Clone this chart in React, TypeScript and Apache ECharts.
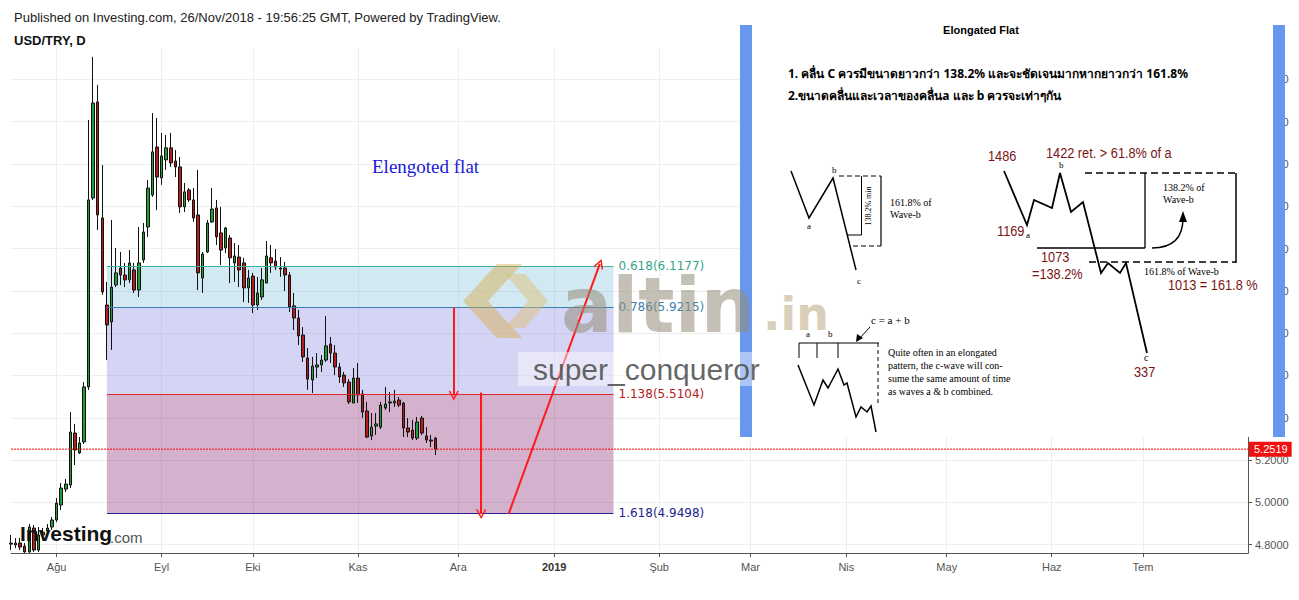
import React, { useEffect, useRef } from "react";
import * as echarts from "echarts";

// ---------- data ----------
const monthNamesTr = ["Oca", "Şub", "Mar", "Nis", "May", "Haz", "Tem", "Ağu", "Eyl", "Eki", "Kas", "Ara"];
const firstTradingDay = "2018-07-18";
const tradingDayCount = 272;
const lastLabelledDay = "2019-07-31";
const lastChartDay = "2019-08-01";

// USD/TRY daily candles from 2018-07-18: [open, close, low, high]
const usdTryDaily: number[][] = [
  [4.803, 4.808, 4.775, 4.846], [4.799, 4.808, 4.784, 4.832], [4.808, 4.789, 4.775, 4.832], [4.794, 4.766, 4.762, 4.808],
  [4.766, 4.884, 4.762, 4.898], [4.879, 4.775, 4.766, 4.893], [4.775, 4.846, 4.766, 4.884], [4.846, 4.860, 4.822, 4.879],
  [4.865, 4.879, 4.851, 4.898], [4.884, 4.917, 4.870, 4.931], [4.917, 4.997, 4.907, 5.021], [4.988, 5.068, 4.964, 5.092],
  [5.063, 5.087, 5.049, 5.111], [5.082, 5.333, 5.068, 5.427], [5.328, 5.248, 5.177, 5.371], [5.234, 5.281, 5.229, 5.309],
  [5.286, 5.546, 5.276, 5.569], [5.546, 6.430, 5.532, 6.808], [6.439, 6.888, 6.430, 7.106], [6.893, 6.359, 6.288, 6.974],
  [6.345, 5.995, 5.981, 6.595], [5.933, 5.839, 5.673, 6.042], [5.853, 6.018, 5.721, 6.335], [6.028, 6.085, 6.018, 6.203],
  [6.108, 6.075, 6.028, 6.184], [6.075, 6.052, 6.018, 6.132], [6.052, 6.132, 6.037, 6.193], [6.099, 6.004, 5.990, 6.132],
  [6.004, 6.132, 5.971, 6.302], [6.146, 6.278, 6.132, 6.321], [6.302, 6.486, 6.255, 6.524], [6.453, 6.657, 6.444, 6.841],
  [6.680, 6.538, 6.382, 6.817], [6.534, 6.638, 6.501, 6.747], [6.619, 6.676, 6.572, 6.737], [6.676, 6.605, 6.586, 6.747],
  [6.614, 6.586, 6.538, 6.666], [6.586, 6.397, 6.368, 6.633], [6.397, 6.468, 6.373, 6.510], [6.477, 6.430, 6.420, 6.486],
  [6.430, 6.345, 6.326, 6.486], [6.359, 6.085, 6.004, 6.572], [6.061, 6.174, 5.990, 6.184], [6.184, 6.321, 6.179, 6.335],
  [6.326, 6.387, 6.321, 6.486], [6.392, 6.255, 6.217, 6.430], [6.274, 6.193, 6.122, 6.397], [6.203, 6.297, 6.179, 6.302],
  [6.250, 6.156, 6.037, 6.264], [6.132, 6.165, 6.042, 6.226], [6.160, 6.099, 6.018, 6.217], [6.132, 6.014, 5.947, 6.156],
  [6.014, 6.061, 5.943, 6.099], [6.070, 5.933, 5.895, 6.085], [5.933, 5.990, 5.910, 6.066], [5.971, 6.052, 5.957, 6.108],
  [6.037, 6.165, 6.037, 6.236], [6.156, 6.132, 6.085, 6.217], [6.141, 6.113, 6.099, 6.198], [6.108, 6.103, 6.066, 6.160],
  [6.108, 6.075, 5.999, 6.137], [6.075, 5.924, 5.900, 6.089], [5.929, 5.872, 5.815, 5.990], [5.872, 5.787, 5.744, 5.910],
  [5.791, 5.688, 5.664, 5.829], [5.683, 5.583, 5.532, 5.730], [5.579, 5.645, 5.517, 5.688], [5.640, 5.650, 5.588, 5.706],
  [5.650, 5.673, 5.617, 5.697], [5.673, 5.740, 5.664, 5.881], [5.749, 5.706, 5.659, 5.782], [5.706, 5.640, 5.602, 5.744],
  [5.640, 5.593, 5.565, 5.659], [5.602, 5.565, 5.546, 5.617], [5.569, 5.475, 5.465, 5.583], [5.470, 5.588, 5.470, 5.635],
  [5.588, 5.508, 5.470, 5.659], [5.513, 5.427, 5.399, 5.532], [5.432, 5.309, 5.304, 5.475], [5.314, 5.356, 5.295, 5.423],
  [5.361, 5.371, 5.319, 5.423], [5.356, 5.460, 5.347, 5.475], [5.446, 5.465, 5.437, 5.546], [5.470, 5.475, 5.427, 5.522],
  [5.470, 5.479, 5.451, 5.532], [5.484, 5.460, 5.451, 5.498], [5.470, 5.352, 5.309, 5.475], [5.352, 5.333, 5.309, 5.399],
  [5.342, 5.304, 5.295, 5.390], [5.304, 5.380, 5.295, 5.404], [5.399, 5.328, 5.319, 5.409], [5.314, 5.295, 5.281, 5.356],
  [5.295, 5.290, 5.262, 5.319], [5.304, 5.2519, 5.224, 5.310],
];

const lastPrice = 5.2519;
const fibRatios = ["0.618", "0.786", "1.138", "1.618"];
const fibPrices = [6.1177, 5.9215, 5.5104, 4.9498];
const fibFrom = "2018-08-16";
const fibTo = "2019-01-18";

const arrowStarts: [string, number][] = [["2018-11-30", 5.9215], ["2018-12-10", 5.52], ["2018-12-18", 4.945]];
const arrowEnds: [string, number][] = [["2018-11-30", 5.505], ["2018-12-10", 4.945], ["2019-01-15", 6.128]];

const yMin = 4.761;
const yMax = 7.148;

// ---------- styles ----------
const fibLineColors = ["#3fb39b", "#3a7fb4", "#e02a2a", "#23239a"];
const fibLabelColors = ["#35a589", "#3d7fae", "#b42020", "#22228f"];
const fibFillColors = ["rgba(105,178,215,0.3)", "rgba(112,112,222,0.3)", "rgba(112,0,88,0.3)"];
const SANS = "Liberation Sans, Arial, sans-serif";
const SERIF = "Liberation Serif, Times New Roman, serif";
const BRICK = "#7a1414";
const PANEL_BLUE = "#6797ee";
const PRICE_RED = "#ff0000";

function buildTradingDays(start: string, count: number): string[] {
  const out: string[] = [];
  const d = new Date(start + "T00:00:00Z");
  while (out.length < count) {
    const wd = d.getUTCDay();
    if (wd !== 0 && wd !== 6) out.push(d.toISOString().slice(0, 10));
    d.setUTCDate(d.getUTCDate() + 1);
  }
  return out;
}

const txt = (text: string, x: number, y: number, size: number, o: any = {}) => ({
  type: "text",
  x,
  y,
  z: o.z ?? 100,
  silent: true,
  rotation: o.rotation ?? 0,
  scaleX: o.scaleX ?? 1,
  style: {
    text,
    fill: o.fill ?? "#000",
    fontSize: size,
    fontFamily: o.family ?? SANS,
    fontWeight: o.weight ?? "normal",
    textAlign: o.align ?? "left",
    textVerticalAlign: "middle",
    align: o.align ?? "left",
    verticalAlign: "middle",
  },
});

const pl = (points: number[][], o: any = {}) => ({
  type: "polyline",
  z: o.z ?? 100,
  silent: true,
  shape: { points },
  style: { stroke: o.stroke ?? "#000", lineWidth: o.w ?? 1.2, fill: null, lineDash: o.dash ?? null },
});

const rect = (x: number, y: number, width: number, height: number, fill: string, z = 100) => ({
  type: "rect",
  z,
  silent: true,
  shape: { x, y, width, height },
  style: { fill },
});

const poly = (points: number[][], fill: string, z = 100) => ({
  type: "polygon",
  z,
  silent: true,
  shape: { points },
  style: { fill },
});

const brick = (text: string, x: number, y: number) => txt(text, x, y, 15, { fill: BRICK, scaleX: 0.85 });

function buildGraphics(): any[] {
  const g: any[] = [];
  // header
  g.push(txt("Published on Investing.com, 26/Nov/2018 - 19:56:25 GMT, Powered by TradingView.", 14, 17, 13, { fill: "#222" }));
  g.push(txt("USD/TRY, D", 14, 40, 13, { weight: "bold", fill: "#111" }));
  g.push(txt("Elengoted flat", 372, 166, 19, { family: SERIF, fill: "#1a1ad8" }));

  // investing logo
  g.push(txt("Investing", 20, 533, 21, { weight: "bold", fill: "#111", z: 90 }));
  g.push(txt(".com", 110, 537, 15, { fill: "#555", z: 90 }));

  // ---- inserted picture panel ----
  g.push(rect(752, 25, 521, 412, "#ffffff"));
  g.push(rect(740, 25, 12, 412, PANEL_BLUE));
  g.push(rect(1273, 25, 12, 412, PANEL_BLUE));
  g.push(txt("Elongated Flat", 981, 30, 11, { weight: "bold", align: "center" }));
  g.push(txt("1. คลื่น C ควรมีขนาดยาวกว่า 138.2% และจะชัดเจนมากหากยาวกว่า 161.8%", 788, 73, 12, { weight: "bold", family: "Noto Sans, DejaVu Sans, sans-serif" }));
  g.push(txt("2.ขนาดคลื่นและเวลาของคลื่นa และ b ควรจะเท่าๆกัน", 788, 95, 12, { weight: "bold", family: "Noto Sans, DejaVu Sans, sans-serif" }));

  // diagram 1
  g.push(pl([[791, 171], [809, 218], [833, 178], [856, 270]], { w: 1.5 }));
  g.push(txt("a", 807, 226, 9, { family: SERIF }));
  g.push(txt("b", 832, 170, 9, { family: SERIF }));
  g.push(txt("c", 857, 281, 9, { family: SERIF }));
  g.push(pl([[839, 176], [881, 176]], { dash: [5, 3] }));
  g.push(pl([[881, 176], [881, 246]]));
  g.push(pl([[853, 246], [881, 246]], { dash: [5, 3] }));
  g.push(pl([[861.5, 176], [861.5, 235], [847, 235]], { w: 1 }));
  g.push(txt("138.2% min", 868, 206, 8, { family: SERIF, align: "center", rotation: Math.PI / 2 }));
  g.push(txt("161.8% of", 890, 202, 10, { family: SERIF }));
  g.push(txt("Wave-b", 890, 214, 10, { family: SERIF }));

  // diagram 2
  g.push(txt("c = a + b", 871, 320, 11, { family: SERIF }));
  g.push(pl([[870, 327], [859, 339]], { w: 1 }));
  g.push(poly([[856, 342], [857, 334], [863, 338]], "#000"));
  g.push(txt("a", 806, 334, 9, { family: SERIF }));
  g.push(txt("b", 828, 334, 9, { family: SERIF }));
  g.push(pl([[799, 358], [799, 343], [879, 343]], { w: 1 }));
  g.push(pl([[817, 343], [817, 358]], { w: 1 }));
  g.push(pl([[838, 343], [838, 358]], { w: 1 }));
  g.push(pl([[878, 343], [878, 404]], { w: 1, dash: [4, 3] }));
  g.push(pl([[798, 365], [814, 405], [823, 380], [828, 388], [838, 369], [844, 385], [847, 383], [856, 417], [861, 407], [867, 412], [871, 406], [876, 432]], { w: 1.5 }));
  g.push(txt("Quite often in an elongated", 888, 352, 10, { family: SERIF }));
  g.push(txt("pattern, the c-wave will con-", 888, 365, 10, { family: SERIF }));
  g.push(txt("sume the same amount of time", 888, 378, 10, { family: SERIF }));
  g.push(txt("as waves a & b combined.", 888, 391, 10, { family: SERIF }));

  // diagram 3
  g.push(pl([[1004, 171], [1027, 225], [1034, 200], [1052, 208], [1060, 173], [1071, 212], [1083, 202], [1101, 273], [1108, 263], [1120, 273], [1126, 263], [1147, 353]], { w: 1.8 }));
  g.push(pl([[1085, 173], [1236, 173]], { w: 1.5, dash: [7, 4] }));
  g.push(pl([[1236, 173], [1236, 263]], { w: 1.5 }));
  g.push(pl([[1089, 262], [1236, 262]], { w: 1.5, dash: [7, 4] }));
  g.push(pl([[1145, 173], [1145, 248]], { w: 1.3 }));
  g.push(pl([[1037, 248], [1145, 248]], { w: 1.3 }));
  g.push({
    type: "bezierCurve", z: 100, silent: true,
    shape: { x1: 1152, y1: 248, cpx1: 1175, cpy1: 248, cpx2: 1183, cpy2: 235, x2: 1183, y2: 218 },
    style: { stroke: "#000", lineWidth: 1.5, fill: null },
  });
  g.push(poly([[1179, 222], [1183, 211], [1187, 222]], "#000"));
  g.push(brick("1486", 988, 156));
  g.push(brick("1422 ret. > 61.8% of a", 1046, 153));
  g.push(txt("b", 1059, 165, 9, { family: SERIF }));
  g.push(brick("1169", 997, 231));
  g.push(txt("a", 1026, 235, 9, { family: SERIF }));
  g.push(txt("138.2% of", 1163, 187, 10, { family: SERIF }));
  g.push(txt("Wave-b", 1163, 199, 10, { family: SERIF }));
  g.push(brick("1073", 1041, 257));
  g.push(brick("=138.2%", 1032, 274));
  g.push(txt("161.8% of Wave-b", 1144, 271, 10, { family: SERIF }));
  g.push(brick("1013 = 161.8 %", 1168, 285));
  g.push(txt("c", 1144, 357, 10, { family: SERIF }));
  g.push(brick("337", 1134, 372));

  // ---- watermark ----
  g.push(poly([[497, 264], [522, 264], [488, 301], [522, 338], [497, 338], [463, 301]], "rgba(215,170,70,0.45)", 110));
  g.push(poly([[505, 274], [525, 274], [548, 301], [525, 328], [505, 328], [528, 301]], "rgba(225,190,110,0.45)", 110));
  g.push(txt("altin", 561, 305, 76, { family: "DejaVu Sans, sans-serif", weight: "bold", fill: "rgba(150,140,120,0.55)", z: 110 }));
  g.push(txt(".in", 763, 314, 46, { family: "DejaVu Sans, sans-serif", weight: "bold", fill: "rgba(180,160,120,0.5)", z: 110 }));
  g.push(rect(518, 352, 252, 34, "rgba(255,255,255,0.45)", 110));
  g.push(txt("super_conqueror", 533, 369, 30, { fill: "rgba(75,75,75,0.85)", z: 111 }));
  return g;
}

export default function App() {
  const ref = useRef<HTMLDivElement>(null);

  useEffect(() => {
    if (!ref.current) return;
    const chart = echarts.init(ref.current, null, { renderer: "svg" });
    const days = buildTradingDays(firstTradingDay, tradingDayCount);
    const isMonthStart = (i: number) =>
      i > 0 && days[i] <= lastLabelledDay && days[i].slice(5, 7) !== days[i - 1].slice(5, 7);
    const fmtMonth = (v: string) => {
      const m = parseInt(v.slice(5, 7), 10) - 1;
      return m === 0 ? `{y|${v.slice(0, 4)}}` : monthNamesTr[m];
    };
    const chevron = "path://M5,0L10,9L8.8,9.9L5,2.7L1.2,9.9L0,9Z";

    const option: any = {
      animation: false,
      backgroundColor: "#ffffff",
      grid: { left: 11, right: 51, top: 48, bottom: 47, containLabel: false },
      xAxis: {
        type: "category",
        data: days,
        boundaryGap: false,
        axisLine: { lineStyle: { color: "#555" } },
        axisTick: { interval: (i: number) => isMonthStart(i), length: 4, lineStyle: { color: "#555" } },
        axisLabel: {
          interval: (i: number) => isMonthStart(i),
          formatter: fmtMonth,
          color: "#555",
          fontSize: 11,
          fontFamily: SANS,
          margin: 8,
          rich: { y: { fontWeight: "bold", color: "#333", fontSize: 11, fontFamily: SANS } },
        },
        splitLine: { show: true, interval: (i: number) => isMonthStart(i), lineStyle: { color: "#eeeeee" } },
      },
      yAxis: {
        type: "value",
        position: "right",
        min: yMin,
        max: yMax,
        splitNumber: 12,
        axisLine: { show: true, lineStyle: { color: "#555" } },
        axisTick: { show: true, length: 4, lineStyle: { color: "#555" } },
        axisLabel: {
          color: "#555",
          fontSize: 11,
          fontFamily: SANS,
          margin: 7,
          showMinLabel: false,
          showMaxLabel: false,
          formatter: (v: number) => v.toFixed(4),
        },
        splitLine: { show: true, showMinLine: false, showMaxLine: false, lineStyle: { color: "#eeeeee" } },
      },
      series: [
        {
          type: "line",
          data: [],
          z: 1,
          silent: true,
          markArea: {
            silent: true,
            label: { show: false },
            data: [0, 1, 2].map((k) => [
              { xAxis: fibFrom, yAxis: fibPrices[k], itemStyle: { color: fibFillColors[k] } },
              { xAxis: fibTo, yAxis: fibPrices[k + 1] },
            ]),
          },
          markLine: {
            silent: true,
            symbol: ["none", "none"],
            data: fibPrices.map((p, k) => [
              {
                coord: [fibFrom, p],
                lineStyle: { color: fibLineColors[k], width: 1, type: "solid" },
                label: {
                  show: true,
                  position: "end",
                  distance: 5,
                  formatter: `${fibRatios[k]}(${p.toFixed(4)})`,
                  color: fibLabelColors[k],
                  fontSize: 12,
                  fontFamily: "DejaVu Sans, Verdana, sans-serif",
                },
              },
              { coord: [fibTo, p] },
            ]),
          },
        },
        {
          type: "candlestick",
          z: 2,
          data: usdTryDaily,
          barWidth: 3,
          itemStyle: {
            color: "#1f9e38",
            color0: "#b51d1d",
            borderColor: "#111",
            borderColor0: "#111",
            borderWidth: 1,
          },
        },
        {
          type: "line",
          z: 3,
          silent: true,
          symbol: "none",
          showSymbol: false,
          color: PRICE_RED,
          data: [
            [firstTradingDay, lastPrice],
            [lastChartDay, lastPrice],
          ],
          lineStyle: { color: PRICE_RED, width: 1, type: [2, 1] },
          endLabel: {
            show: true,
            distance: 1,
            formatter: () => lastPrice.toFixed(4),
            color: "#fff",
            backgroundColor: "#f01010",
            padding: [2, 4, 2, 5],
            fontSize: 11,
            fontFamily: SANS,
          },
        },
        {
          type: "line",
          data: [],
          z: 3,
          silent: true,
          markLine: {
            silent: true,
            symbol: ["none", chevron],
            symbolSize: 10,
            label: { show: false },
            lineStyle: { color: "#ff1a1a", width: 2, type: "solid" },
            data: arrowStarts.map((s, k) => [{ coord: s }, { coord: arrowEnds[k] }]),
          },
        },
      ],
      graphic: { elements: buildGraphics() },
    };

    chart.setOption(option);
    return () => chart.dispose();
  }, []);

  return (
    <div
      ref={ref}
      style={{ position: "absolute", left: 0, top: 0, width: 1299, height: 600, background: "#fff" }}
    />
  );
}
